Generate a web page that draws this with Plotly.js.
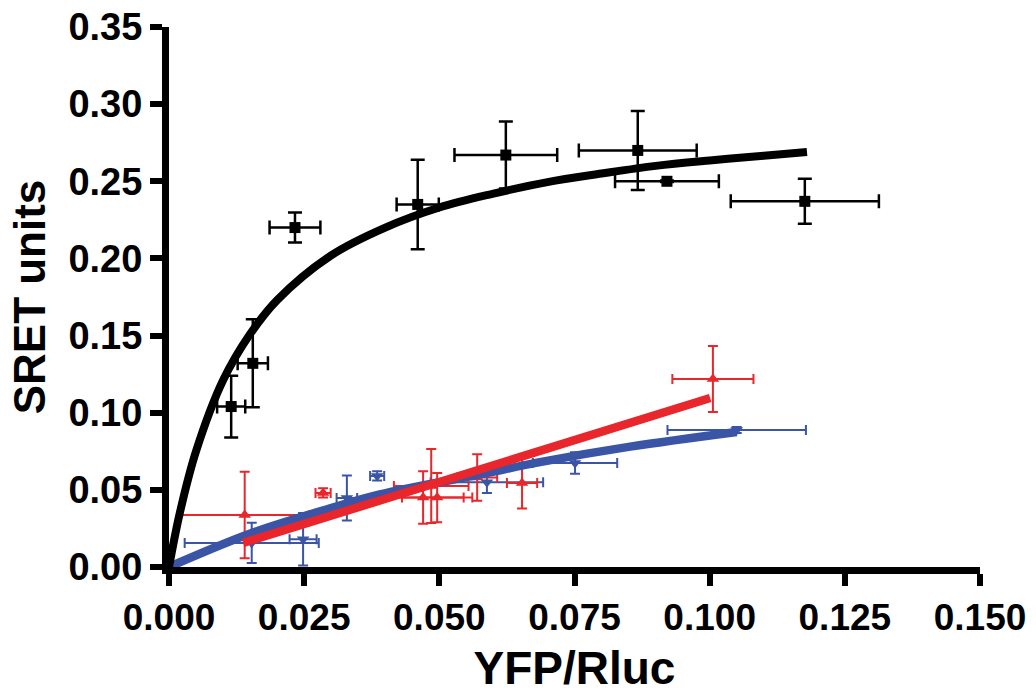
<!DOCTYPE html>
<html>
<head>
<meta charset="utf-8">
<script src="https://cdn.plot.ly/plotly-3.0.1.min.js"></script>
<style>html,body{margin:0;padding:0;background:#fff;}#chart{width:1036px;height:694px;}</style>
</head>
<body>
<div id="chart"></div>
<script>
// Black series (squares)
var blackX    = [0.0115, 0.0155, 0.0233, 0.0460, 0.0623, 0.0867, 0.0921, 0.1176];
var blackY    = [0.104, 0.132, 0.220, 0.235, 0.267, 0.270, 0.250, 0.237];
var blackXErr = [0.0026, 0.0028, 0.0047, 0.0039, 0.0095, 0.0109, 0.0096, 0.0137];
var blackYErr = [0.020, 0.0285, 0.0097, 0.029, 0.0217, 0.0256, 0.0005, 0.0146];

// Red series (up triangles)
var redX    = [0.0140, 0.0285, 0.0470, 0.0485, 0.0496, 0.0570, 0.0653, 0.1006];
var redY    = [0.0337, 0.048, 0.045, 0.0525, 0.045, 0.058, 0.0544, 0.1218];
var redXErr = [0.0120, 0.0014, 0.0075, 0.0069, 0.0065, 0.0037, 0.0028, 0.0075];
var redYErr = [0.028, 0.003, 0.017, 0.024, 0.016, 0.015, 0.0165, 0.0214];

// Blue series (down triangles)
var blueX    = [0.0153, 0.0248, 0.0329, 0.0385, 0.0588, 0.0751, 0.1050];
var blueY    = [0.0156, 0.018, 0.0447, 0.059, 0.055, 0.0674, 0.0888];
var blueXErr = [0.0124, 0.0025, 0.0019, 0.0013, 0.0104, 0.0078, 0.0128];
var blueYErr = [0.013, 0.017, 0.0146, 0.003, 0.007, 0.007, 0.002];

// Fitted curves
var blackFitX = [0, 0.002, 0.005, 0.01, 0.015, 0.02, 0.03, 0.04, 0.05, 0.06, 0.07, 0.08, 0.09, 0.10, 0.11, 0.118];
var blackFitY = [0, 0.035, 0.075, 0.121, 0.151, 0.173, 0.202, 0.220, 0.233, 0.242, 0.2495, 0.255, 0.260, 0.2635, 0.2665, 0.269];
var blueFitX  = [0, 0.0153, 0.0298, 0.039, 0.0575, 0.0686, 0.0853, 0.105];
var blueFitY  = [0, 0.022, 0.038, 0.047, 0.060, 0.068, 0.078, 0.0875];
var redFitX   = [0.0137, 0.1001];
var redFitY   = [0.0156, 0.1095];

// Axis ticks
var xTicks = [0, 0.025, 0.05, 0.075, 0.1, 0.125, 0.15];
var xTickLabels = ['0.000', '0.025', '0.050', '0.075', '0.100', '0.125', '0.150'];
var yTicks = [0, 0.05, 0.1, 0.15, 0.2, 0.25, 0.3, 0.35];
var yTickLabels = ['0.00', '0.05', '0.10', '0.15', '0.20', '0.25', '0.30', '0.35'];

var BLACK = '#000000', RED = '#e8262b', BLUE = '#3a55a6';
var FONT = 'Liberation Sans, Arial, sans-serif';

function errPts(x, y, xe, ye, color, sym, size, thick, w) {
  return {
    type: 'scatter', mode: 'markers', x: x, y: y,
    marker: {symbol: sym, size: size, color: color},
    error_x: {type: 'data', array: xe, visible: true, color: color, thickness: thick, width: w},
    error_y: {type: 'data', array: ye, visible: true, color: color, thickness: thick, width: w},
    showlegend: false, cliponaxis: false, hoverinfo: 'x+y'
  };
}

var data = [
  errPts(blueX, blueY, blueXErr, blueYErr, BLUE, 'triangle-down', 11, 2, 5),
  errPts(redX, redY, redXErr, redYErr, RED, 'triangle-up', 11, 2, 5),
  {type: 'scatter', mode: 'lines', x: blueFitX, y: blueFitY, line: {color: BLUE, width: 8.5, shape: 'spline'}, showlegend: false, hoverinfo: 'skip'},
  {type: 'scatter', mode: 'lines', x: redFitX, y: redFitY, line: {color: RED, width: 8.5}, showlegend: false, hoverinfo: 'skip'},
  errPts(blackX, blackY, blackXErr, blackYErr, BLACK, 'square', 11, 2.5, 7),
  {type: 'scatter', mode: 'lines', x: blackFitX, y: blackFitY, line: {color: BLACK, width: 8, shape: 'spline'}, showlegend: false, hoverinfo: 'skip', cliponaxis: false}
];

var layout = {
  width: 1036, height: 694,
  margin: {l: 169, r: 56, t: 27, b: 127},
  paper_bgcolor: '#ffffff', plot_bgcolor: '#ffffff',
  showlegend: false,
  xaxis: {
    range: [0, 0.15], tickvals: xTicks, ticktext: xTickLabels,
    showgrid: false, zeroline: false, showline: true, linecolor: BLACK, linewidth: 7,
    ticks: 'outside', ticklen: 12, tickwidth: 6, tickcolor: BLACK,
    tickfont: {family: FONT, size: 37, weight: 'bold', color: BLACK},
    title: {text: 'YFP/Rluc', standoff: 22, font: {family: FONT, size: 46, weight: 'bold', color: BLACK}},
    automargin: false, fixedrange: true
  },
  yaxis: {
    range: [0, 0.35], tickvals: yTicks, ticktext: yTickLabels,
    showgrid: false, zeroline: false, showline: true, linecolor: BLACK, linewidth: 7,
    ticks: 'outside', ticklen: 12, tickwidth: 6, tickcolor: BLACK,
    tickfont: {family: FONT, size: 38, weight: 'bold', color: BLACK},
    title: {text: 'SRET units', standoff: 12, font: {family: FONT, size: 44, weight: 'bold', color: BLACK}},
    automargin: false, fixedrange: true
  }
};

Plotly.newPlot('chart', data, layout, {staticPlot: true, displayModeBar: false});
</script>
</body>
</html>
